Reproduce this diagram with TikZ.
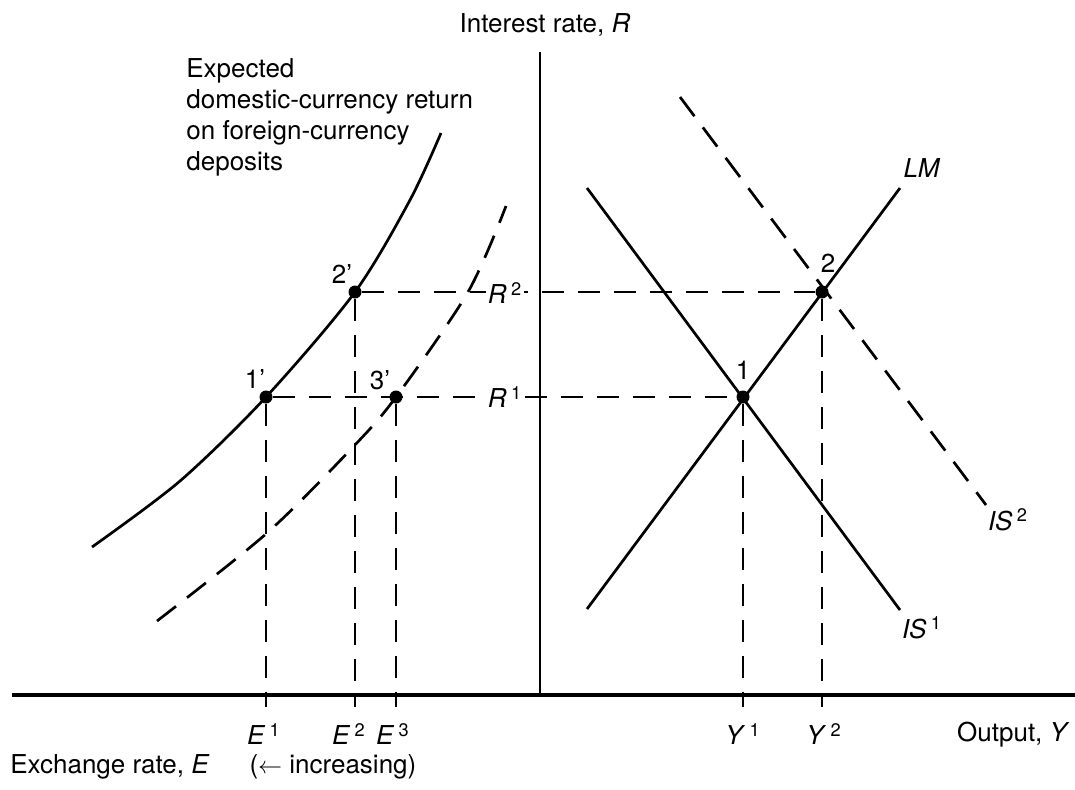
\documentclass[tikz,border=0pt]{standalone}
\usepackage{fontspec}
\setmainfont{TeX Gyre Heros}
\usetikzlibrary{positioning}
\tikzset{
  haxis/.style={line width=1.6pt},
  vaxis/.style={line width=1pt},
  schedule/.style={line width=1.35pt},
  shiftsched/.style={schedule, dash pattern=on 12pt off 7pt},
  guide/.style={line width=0.6pt, dash pattern=on 11pt off 7pt},
  tickmark/.style={line width=0.8pt},
  eqpt/.style={circle, fill, inner sep=0pt, minimum size=6.5pt},
  lbl/.style={font=\fontsize{13}{15.5}\selectfont, inner sep=1pt},
}

\begin{document}
\begin{tikzpicture}[x=0.5pt, y=-0.5pt]
  \useasboundingbox (0,0) rectangle (1075,789);
  % axes
  \coordinate (xl) at (12,695);
  \coordinate (xr) at (1075,695);
  \coordinate (org) at (540,695);
  \coordinate (rtop) at (540,52);
  \draw[haxis] (xl) -- (xr);
  \draw[vaxis] (org) -- (rtop);
  \node[lbl] (rname) at (545,25) {Interest rate, \textit{R}};
  \node[lbl, anchor=east] (yname) at (1072,735) {Output, \textit{Y}};
  \node[lbl, anchor=west] (ename) at (8,767) {Exchange rate, \textit{E}\hspace{20pt}($\leftarrow$ increasing)};

  % equilibrium points
  \node[eqpt] (d1) at (266,397) {};
  \node[eqpt] (d2) at (355,292) {};
  \node[eqpt] (d3) at (396,397) {};
  \node[eqpt] (m1) at (743,397) {};
  \node[eqpt] (m2) at (822,292) {};
  \node[lbl] (d1name) at (255,379) {1'};
  \node[lbl] (d2name) at (342,274) {2'};
  \node[lbl] (d3name) at (380,380) {3'};
  \node[lbl] (m1name) at (743,370) {1};
  \node[lbl] (m2name) at (828,263) {2};

  % asset market schedules
  \draw[schedule] plot[smooth] coordinates {(92,547) (180,481) (266,397) (355,292) (410,200) (441,133)};
  \draw[shiftsched] plot[smooth] coordinates {(157,621) (267,533) (353,447) (396,397) (468,292) (506,206)};
  \node[lbl, anchor=north west, align=left] (retname) at (184,56) {Expected\\domestic-currency return\\on foreign-currency\\deposits};

  % output market schedules
  \coordinate (lmlo) at (587,609);
  \coordinate (lmhi) at (900,188);
  \coordinate (is1hi) at (587,188);
  \coordinate (is1lo) at (900,610);
  \coordinate (is2hi) at (680,97);
  \coordinate (is2lo) at (986,505);
  \draw[schedule] (lmlo) -- (lmhi);
  \draw[schedule] (is1hi) -- (is1lo);
  \draw[shiftsched] (is2hi) -- (is2lo);
  \node[lbl] (lmname) at (922,168) {\textit{LM}};
  \node[lbl] (is1name) at (922,628) {\textit{IS}\,\textsuperscript{1}};
  \node[lbl] (is2name) at (1008,520) {\textit{IS}\,\textsuperscript{2}};

  % guide lines
  \draw[guide] (d2) -- (m2);
  \draw[guide] (d1) -- (m1);
  \node[lbl, fill=white] (r2) at (505,293) {\textit{R}\,\textsuperscript{2}};
  \node[lbl, fill=white] (r1) at (505,397) {\textit{R}\,\textsuperscript{1}};
  \foreach \p in {d1,d2,d3,m1,m2} {
    \draw[guide] (\p) -- (\p |- xl);
    \draw[tickmark] (\p |- xl) -- ++(0,12);
  }
  \node[lbl] (e1) at (264,734) {\textit{E}\,\textsuperscript{1}};
  \node[lbl] (e2) at (349,734) {\textit{E}\,\textsuperscript{2}};
  \node[lbl] (e3) at (393,734) {\textit{E}\,\textsuperscript{3}};
  \node[lbl] (y1) at (743,734) {\textit{Y}\,\textsuperscript{1}};
  \node[lbl] (y2) at (824,734) {\textit{Y}\,\textsuperscript{2}};
\end{tikzpicture}
\end{document}
